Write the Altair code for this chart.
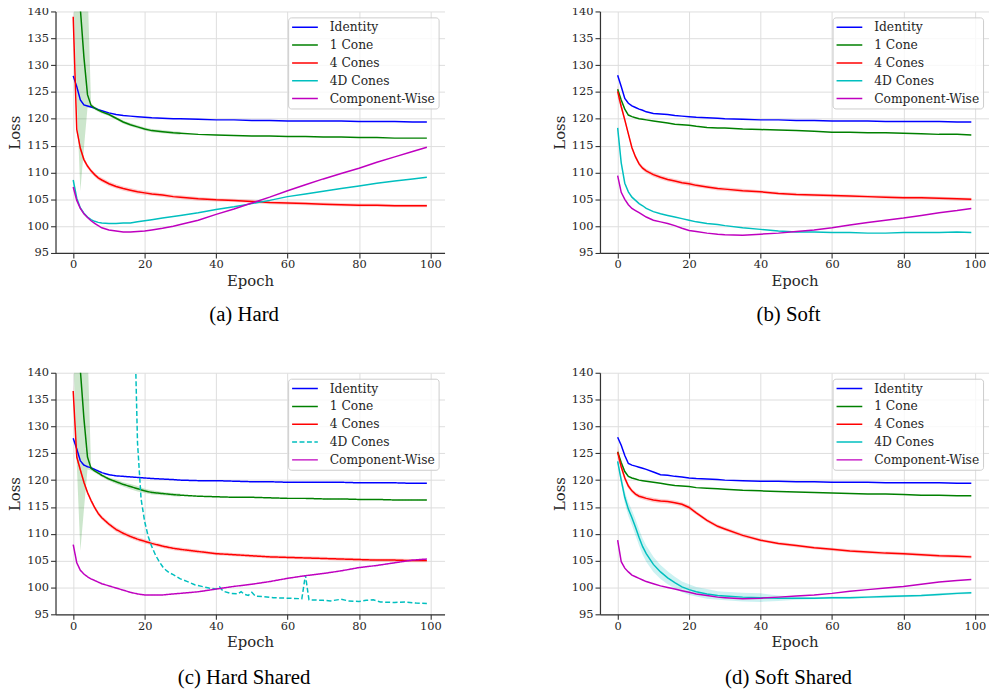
import altair as alt
import pandas as pd

SERIES = ["Identity", "1 Cone", "4 Cones", "4D Cones", "Component-Wise"]
COLORS = ["#0000ff", "#008000", "#ff0000", "#00bfbf", "#bf00bf"]
X_TICKS = [0, 20, 40, 60, 80, 100]
Y_TICKS = [95, 100, 105, 110, 115, 120, 125, 130, 135, 140]
CAPTIONS = ["(a) Hard", "(b) Soft", "(c) Hard Shared", "(d) Soft Shared"]

EPOCHS = [0, 1, 2, 3, 4, 5, 6, 7, 8, 10, 12, 14, 16, 18, 20, 22, 25, 28, 30,
          35, 40, 45, 50, 55, 60, 65, 70, 75, 80, 85, 90, 95, 99]

A_IDENTITY = [128.0, 126.0, 123.5, 122.6, 122.4, 122.2, 122.0, 121.7, 121.5, 121.1, 120.8, 120.6, 120.5, 120.4, 120.3, 120.2, 120.1, 120.0, 120.0, 119.9, 119.8, 119.8, 119.7, 119.7, 119.6, 119.6, 119.6, 119.6, 119.5, 119.5, 119.5, 119.4, 119.4]
A_CONE1 = [165, 152, 140.5, 131.5, 124.5, 122.5, 122.0, 121.6, 121.3, 120.8, 120.1, 119.4, 118.9, 118.5, 118.1, 117.8, 117.6, 117.4, 117.3, 117.1, 117.0, 116.9, 116.8, 116.8, 116.7, 116.7, 116.6, 116.6, 116.5, 116.5, 116.4, 116.4, 116.4]
A_CONES4 = [139.0, 118.0, 114.5, 112.4, 111.2, 110.3, 109.6, 109.0, 108.6, 107.9, 107.4, 107.0, 106.7, 106.4, 106.2, 106.0, 105.8, 105.5, 105.4, 105.1, 104.9, 104.8, 104.6, 104.4, 104.3, 104.2, 104.1, 104.0, 103.9, 103.9, 103.8, 103.8, 103.8]
A_4D = [108.6, 105.2, 103.4, 102.4, 101.7, 101.2, 100.9, 100.7, 100.6, 100.5, 100.5, 100.6, 100.6, 100.8, 101.0, 101.2, 101.5, 101.8, 102.0, 102.5, 103.1, 103.6, 104.2, 104.8, 105.5, 106.0, 106.5, 107.0, 107.5, 108.0, 108.4, 108.8, 109.1]
A_CW = [107.3, 104.8, 103.3, 102.3, 101.6, 101.0, 100.5, 100.1, 99.7, 99.3, 99.1, 98.9, 98.9, 99.0, 99.1, 99.3, 99.6, 100.0, 100.3, 101.1, 102.2, 103.2, 104.3, 105.4, 106.6, 107.7, 108.8, 109.8, 110.8, 111.9, 112.9, 113.9, 114.7]

B_IDENTITY = [128.1, 126.0, 123.8, 122.9, 122.4, 122.1, 121.8, 121.6, 121.3, 121.0, 120.9, 120.8, 120.6, 120.5, 120.4, 120.3, 120.2, 120.1, 120.0, 119.9, 119.8, 119.8, 119.7, 119.7, 119.6, 119.6, 119.6, 119.5, 119.5, 119.5, 119.5, 119.4, 119.4]
B_CONE1 = [125.5, 123.5, 121.8, 120.7, 120.4, 120.2, 120.0, 119.9, 119.8, 119.6, 119.4, 119.2, 119.0, 118.9, 118.8, 118.6, 118.4, 118.3, 118.3, 118.1, 118.0, 117.9, 117.8, 117.7, 117.5, 117.5, 117.4, 117.4, 117.3, 117.2, 117.1, 117.1, 117.0]
B_CONES4 = [125.1, 122.3, 119.8, 117.2, 114.6, 112.9, 111.6, 110.8, 110.3, 109.6, 109.1, 108.7, 108.4, 108.1, 107.9, 107.6, 107.3, 107.0, 106.9, 106.6, 106.4, 106.1, 105.9, 105.8, 105.7, 105.6, 105.5, 105.4, 105.3, 105.3, 105.2, 105.1, 105.0]
B_4D = [118.3, 111.8, 108.0, 106.4, 105.4, 104.8, 104.2, 103.8, 103.3, 102.7, 102.3, 102.0, 101.7, 101.4, 101.1, 100.8, 100.5, 100.3, 100.1, 99.7, 99.4, 99.1, 98.9, 98.9, 98.8, 98.8, 98.7, 98.7, 98.8, 98.8, 98.8, 98.9, 98.8]
B_CW = [109.4, 106.3, 105.0, 104.0, 103.3, 102.9, 102.5, 102.1, 101.7, 101.1, 100.8, 100.5, 100.1, 99.6, 99.2, 99.0, 98.7, 98.5, 98.4, 98.3, 98.5, 98.7, 99.0, 99.3, 99.7, 100.2, 100.7, 101.1, 101.5, 102.0, 102.5, 102.9, 103.3]

C_IDENTITY = [127.8, 125.8, 123.6, 122.8, 122.5, 122.3, 122.0, 121.7, 121.4, 121.0, 120.8, 120.7, 120.6, 120.5, 120.4, 120.3, 120.2, 120.1, 120.0, 119.9, 119.9, 119.8, 119.7, 119.7, 119.6, 119.6, 119.6, 119.6, 119.5, 119.5, 119.5, 119.4, 119.4]
C_CONE1 = [165, 152, 140.5, 131.5, 124.3, 122.2, 121.7, 121.3, 120.9, 120.2, 119.7, 119.2, 118.8, 118.4, 118.0, 117.7, 117.5, 117.3, 117.2, 117.0, 116.9, 116.8, 116.8, 116.7, 116.6, 116.6, 116.5, 116.5, 116.4, 116.4, 116.3, 116.3, 116.3]
C_CONES4 = [136.6, 124.3, 121.9, 119.6, 117.7, 116.2, 114.9, 113.8, 113.0, 111.8, 110.8, 110.1, 109.5, 109.0, 108.6, 108.2, 107.7, 107.3, 107.1, 106.7, 106.3, 106.1, 105.9, 105.7, 105.6, 105.5, 105.4, 105.3, 105.2, 105.1, 105.1, 105.0, 105.0]
C_CW = [108.0, 104.6, 103.2, 102.5, 102.0, 101.6, 101.3, 101.0, 100.7, 100.3, 99.9, 99.5, 99.1, 98.8, 98.6, 98.6, 98.6, 98.8, 98.9, 99.2, 99.7, 100.2, 100.6, 101.1, 101.7, 102.2, 102.6, 103.1, 103.7, 104.1, 104.6, 105.1, 105.3]
C_4D_EPOCHS = [17, 18, 19, 20, 21, 22, 23, 24, 25, 26, 27, 28, 30, 32, 34, 36, 38, 40, 41, 42,
               44, 46, 47, 48, 49, 50, 51, 53, 56, 60, 64, 65, 66, 70, 72, 75, 77, 80, 82, 84,
               86, 90, 93, 96, 99]
C_4D = [155, 127, 116.5, 112.3, 109.5, 107.6, 106.1, 104.9, 103.9, 103.2, 102.7, 102.4, 101.6, 101.1, 100.5, 100.2, 99.9, 99.7, 100.1, 99.3,
        98.9, 98.8, 99.2, 98.7, 98.5, 99.1, 98.4, 98.3, 98.1, 98.0, 97.9, 102.3, 97.7, 97.6, 97.5, 97.8, 97.5, 97.4, 97.6, 97.7,
        97.3, 97.2, 97.3, 97.1, 97.0]

D_IDENTITY = [128.0, 126.5, 124.6, 123.1, 122.8, 122.6, 122.4, 122.2, 122.0, 121.5, 121.0, 120.9, 120.7, 120.6, 120.4, 120.3, 120.2, 120.1, 120.0, 119.9, 119.8, 119.8, 119.7, 119.7, 119.6, 119.6, 119.6, 119.5, 119.5, 119.5, 119.5, 119.4, 119.4]
D_CONE1 = [125.3, 123.3, 121.6, 120.7, 120.4, 120.2, 120.0, 119.9, 119.8, 119.6, 119.4, 119.2, 119.0, 118.9, 118.8, 118.6, 118.5, 118.4, 118.3, 118.1, 118.0, 117.9, 117.8, 117.7, 117.6, 117.5, 117.4, 117.4, 117.3, 117.2, 117.2, 117.1, 117.1]
D_CONES4 = [125.2, 122.5, 120.4, 118.9, 118.0, 117.4, 117.0, 116.8, 116.6, 116.3, 116.1, 116.0, 115.8, 115.5, 114.9, 113.9, 112.5, 111.4, 110.9, 109.7, 108.8, 108.2, 107.8, 107.4, 107.1, 106.8, 106.6, 106.4, 106.3, 106.1, 105.9, 105.8, 105.7]
D_4D = [123.5, 120.0, 116.8, 114.6, 113.0, 111.2, 109.3, 107.6, 106.3, 104.3, 102.9, 101.8, 100.9, 100.1, 99.6, 99.2, 98.8, 98.5, 98.4, 98.2, 98.1, 98.0, 98.0, 98.0, 98.1, 98.1, 98.2, 98.3, 98.4, 98.5, 98.7, 98.9, 99.0]
D_CW = [108.8, 104.8, 103.6, 102.9, 102.3, 102.0, 101.7, 101.4, 101.1, 100.7, 100.3, 100.0, 99.7, 99.4, 99.1, 98.8, 98.5, 98.2, 98.1, 97.9, 98.0, 98.2, 98.4, 98.6, 98.9, 99.3, 99.6, 99.9, 100.2, 100.6, 101.0, 101.3, 101.5]

BAND_EARLY = EPOCHS[:19]
A_CONE1_LO = [145, 123.5, 106.5, 114.5, 122.0, 122.1, 121.7, 121.3, 121.0, 120.5, 119.8, 119.1, 118.6, 118.2, 117.8, 117.5, 117.3, 117.1, 117.0]
A_CONE1_HI = [185, 180, 172, 158, 145, 122.9, 122.3, 121.9, 121.6, 121.1, 120.4, 119.7, 119.2, 118.8, 118.4, 118.1, 117.9, 117.7, 117.6]
C_CONE1_LO = [145, 123.0, 106.8, 114.5, 122.0, 121.8, 121.4, 121.0, 120.6, 119.9, 119.3, 118.8, 118.3, 117.9, 117.6, 117.3, 117.2, 117.0, 116.9]
C_CONE1_HI = [185, 180, 172, 158, 145, 122.6, 122.0, 121.6, 121.2, 120.5, 120.1, 119.6, 119.3, 118.9, 118.4, 118.1, 117.8, 117.6, 117.5]
RED_HW = [1.2, 0.6, 0.5, 0.45, 0.4, 0.4, 0.4, 0.4, 0.4, 0.4, 0.4, 0.4, 0.4, 0.4, 0.4, 0.35, 0.35, 0.35, 0.35, 0.35, 0.3, 0.3, 0.3, 0.3, 0.3, 0.3, 0.3, 0.3, 0.3, 0.3, 0.3, 0.3, 0.3]
D_4D_HW = [0.3, 0.8, 1.1, 1.3, 1.4, 1.5, 1.5, 1.5, 1.5, 1.4, 1.3, 1.2, 1.1, 1.0, 1.0, 0.9, 0.9, 0.8, 0.8, 0.8, 0.8, 0.5, 0.3, 0.2, 0.2, 0.2, 0.2, 0.2, 0.2, 0.2, 0.2, 0.2, 0.2]

SOLID = [1, 0]
DASHED = [5, 2.5]

X_SCALE = alt.Scale(domain=[-4.95, 103.95], nice=False, zero=False)
Y_SCALE = alt.Scale(domain=[95, 140], nice=False, zero=False)
AX_STYLE = dict(labelFont="DejaVu Serif", labelFontSize=11.5, labelColor="#262626",
                titleFont="DejaVu Serif", titleFontSize=15, titleFontWeight="normal",
                titleColor="#262626", gridColor="#dedede", gridWidth=1, domainColor="#333333",
                domainWidth=1.25, tickColor="#333333", tickSize=5, tickWidth=1.1)
X_AXIS = alt.Axis(values=X_TICKS, title="Epoch", labelPadding=1, titlePadding=3, **AX_STYLE)
Y_AXIS = alt.Axis(values=Y_TICKS, title="Loss", labelPadding=2, titlePadding=4, **AX_STYLE)
LEG = dict(title=None, orient="top-right", offset=6, fillColor="rgba(255,255,255,0.8)",
           strokeColor="#cccccc", cornerRadius=3, padding=3, labelFont="DejaVu Serif",
           labelFontSize=12.4, labelColor="#262626", symbolType="stroke", symbolSize=676,
           symbolStrokeWidth=1.5, clipHeight=14, rowPadding=4, labelOffset=11)


def line_rows(epochs, values, name):
    return [{"epoch": e, "loss": v, "series": name} for e, v in zip(epochs, values)]


def band_rows(epochs, lo, hi, name):
    col = COLORS[SERIES.index(name)]
    return [{"epoch": e, "lo": a, "hi": b, "band": name, "col": col}
            for e, a, b in zip(epochs, lo, hi)]


def hw_band(values, hw, name):
    return band_rows(EPOCHS, [v - h for v, h in zip(values, hw)],
                     [v + h for v, h in zip(values, hw)], name)


def panel(lines, bands, caption, cap_offset, dashes=None):
    ldf = pd.DataFrame(lines)
    bdf = pd.DataFrame(bands)
    band_layer = alt.Chart(bdf).mark_area(opacity=0.2, clip=True).encode(
        x=alt.X("epoch:Q", scale=X_SCALE, axis=X_AXIS),
        y=alt.Y("lo:Q", scale=Y_SCALE, axis=Y_AXIS),
        y2="hi:Q",
        fill=alt.Fill("col:N", scale=None),
        detail="band:N",
    )
    enc = dict(
        x=alt.X("epoch:Q", scale=X_SCALE, axis=X_AXIS),
        y=alt.Y("loss:Q", scale=Y_SCALE, axis=Y_AXIS),
        color=alt.Color("series:N", scale=alt.Scale(domain=SERIES, range=COLORS),
                        legend=alt.Legend(**LEG)),
    )
    if dashes is not None:
        enc["strokeDash"] = alt.StrokeDash("series:N", scale=alt.Scale(domain=SERIES, range=dashes),
                                           legend=alt.Legend(**LEG))
    line_layer = alt.Chart(ldf).mark_line(strokeWidth=1.5, clip=True).encode(**enc)
    return alt.layer(band_layer, line_layer).properties(
        width=393, height=244,
        view=alt.ViewBackground(stroke=None),
        title=alt.TitleParams(text=caption, orient="bottom", anchor="middle", frame="group",
                              font="Liberation Serif", fontSize=21, fontWeight="normal",
                              color="black", offset=cap_offset, dx=-6),
    )


pa = panel(
    line_rows(EPOCHS, A_IDENTITY, "Identity") + line_rows(EPOCHS, A_CONE1, "1 Cone")
    + line_rows(EPOCHS, A_CONES4, "4 Cones") + line_rows(EPOCHS, A_4D, "4D Cones")
    + line_rows(EPOCHS, A_CW, "Component-Wise"),
    band_rows(BAND_EARLY, A_CONE1_LO, A_CONE1_HI, "1 Cone") + hw_band(A_CONES4, RED_HW, "4 Cones"),
    CAPTIONS[0], 16)

pb = panel(
    line_rows(EPOCHS, B_IDENTITY, "Identity") + line_rows(EPOCHS, B_CONE1, "1 Cone")
    + line_rows(EPOCHS, B_CONES4, "4 Cones") + line_rows(EPOCHS, B_4D, "4D Cones")
    + line_rows(EPOCHS, B_CW, "Component-Wise"),
    hw_band(B_CONES4, RED_HW, "4 Cones"),
    CAPTIONS[1], 16)

pc = panel(
    line_rows(EPOCHS, C_IDENTITY, "Identity") + line_rows(EPOCHS, C_CONE1, "1 Cone")
    + line_rows(EPOCHS, C_CONES4, "4 Cones") + line_rows(C_4D_EPOCHS, C_4D, "4D Cones")
    + line_rows(EPOCHS, C_CW, "Component-Wise"),
    band_rows(BAND_EARLY, C_CONE1_LO, C_CONE1_HI, "1 Cone") + hw_band(C_CONES4, RED_HW, "4 Cones"),
    CAPTIONS[2], 18, [SOLID, SOLID, SOLID, DASHED, SOLID])

pd_ = panel(
    line_rows(EPOCHS, D_IDENTITY, "Identity") + line_rows(EPOCHS, D_CONE1, "1 Cone")
    + line_rows(EPOCHS, D_CONES4, "4 Cones") + line_rows(EPOCHS, D_4D, "4D Cones")
    + line_rows(EPOCHS, D_CW, "Component-Wise"),
    hw_band(D_CONES4, RED_HW, "4 Cones") + hw_band(D_4D, D_4D_HW, "4D Cones"),
    CAPTIONS[3], 18)

chart = alt.concat(
    pa, pb, pc, pd_, columns=2, spacing={"row": 42, "column": 109}
).resolve_scale(
    color="independent", strokeDash="independent"
).resolve_legend(
    color="independent", strokeDash="independent"
).properties(
    padding={"left": 0, "top": -6, "right": 0, "bottom": 0}
)

chart.save("out.html", embed_options={"renderer": "svg", "actions": False})
